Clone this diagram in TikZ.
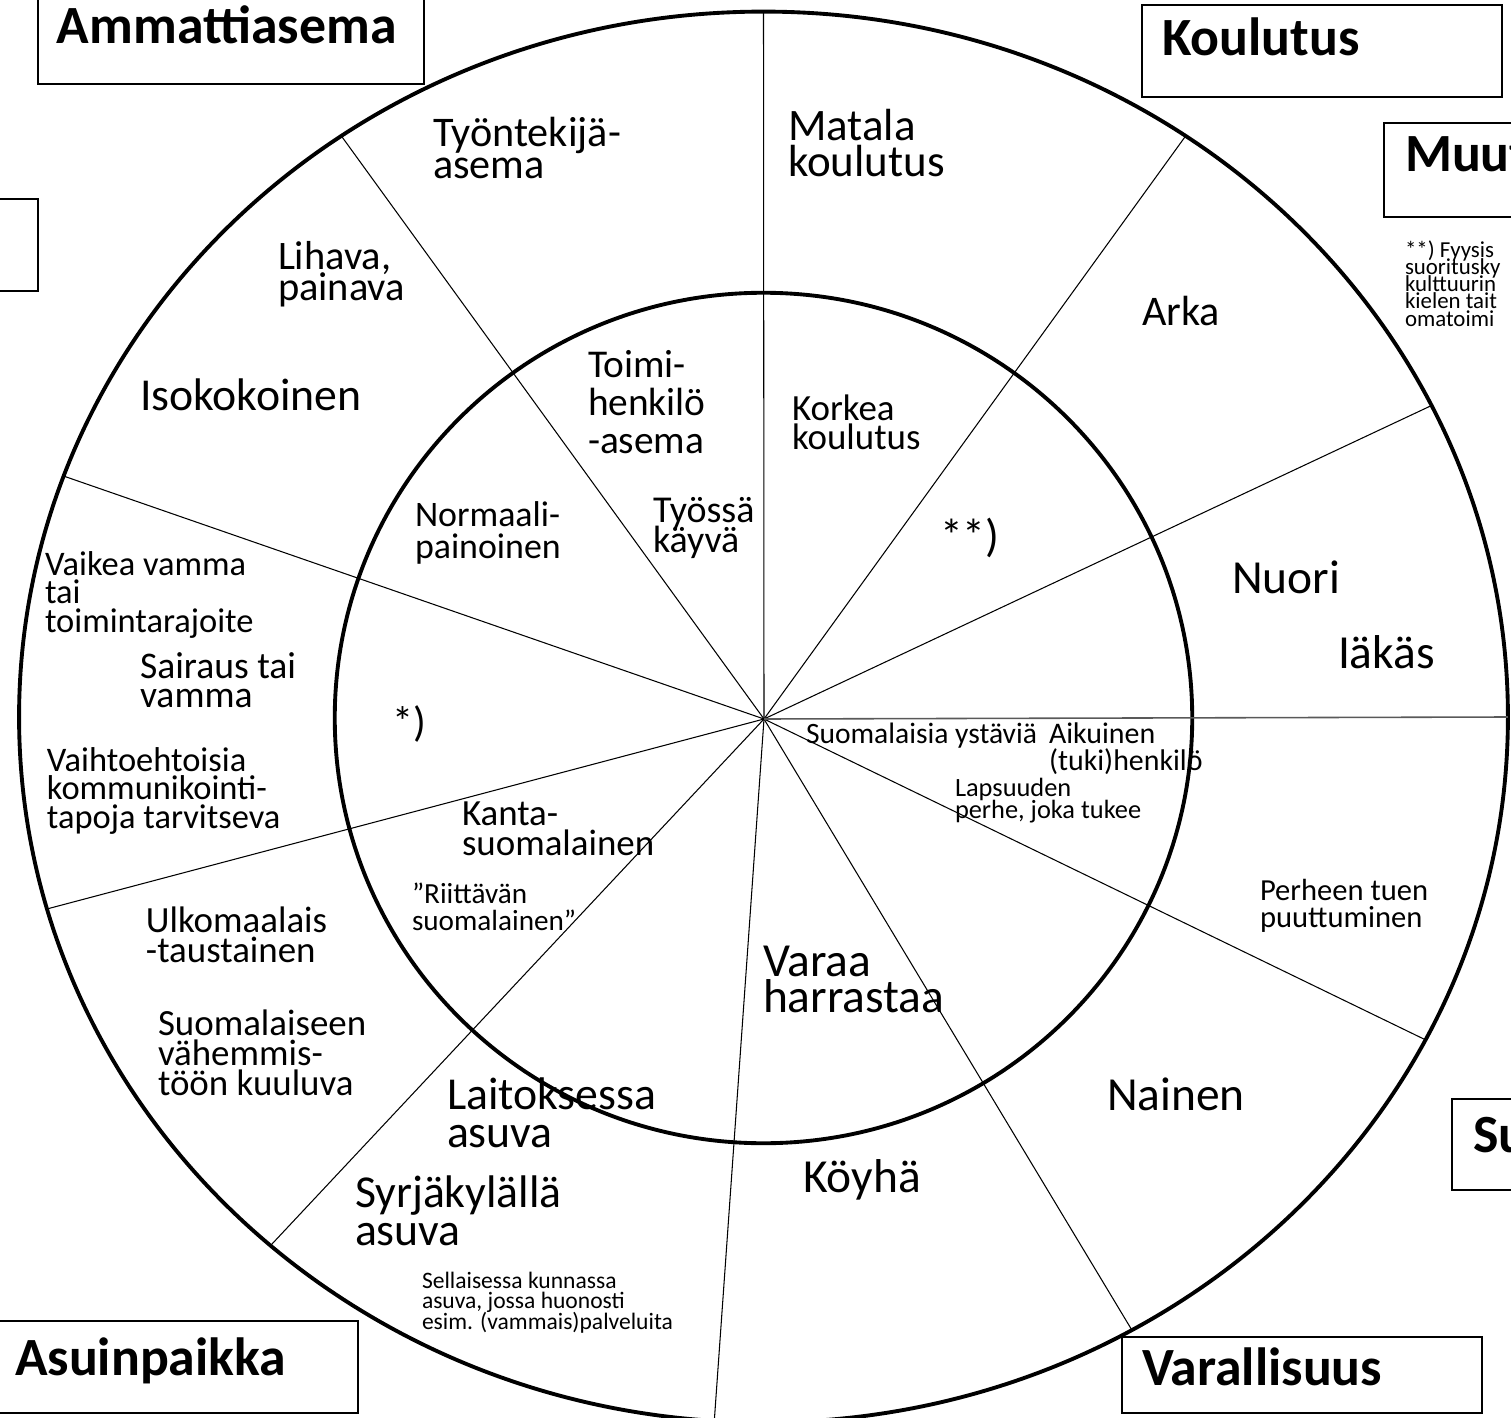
\documentclass[tikz,border=0pt]{standalone}
\usepackage{fontspec}
\setmainfont{Carlito}
\usetikzlibrary{shapes.geometric}

\begin{document}
\begin{tikzpicture}[x=0.01cm, y=-0.01cm,
    every node/.style={inner sep=0pt, outer sep=0pt, anchor=base west, align=left},
    ring/.style={draw, ellipse, line width=1.1pt, anchor=center},
    spoke/.style={line width=0.3pt},
    catbox/.style={line width=0.7pt},
    cattext/.style={font=\fontsize{15.3}{18}\selectfont\bfseries},
    sz/.style 2 args={font={\fontsize{#1}{#2}\selectfont\lineskiplimit=-50pt\relax}}]
    \useasboundingbox (0,0) rectangle (1511,1418);
    \clip (0,0) rectangle (1511,1418);

    \coordinate (hub) at (764,719);
    \node[ring, minimum width=14.88cm, minimum height=14.1cm] (outer) at (763.5,717) {};
    \node[ring, minimum width=8.57cm, minimum height=8.5cm] (inner) at (763.5,718) {};

    % spokes of the wheel
    \foreach \a in {90,54.4,25.5,-26.8,-59.4,-94.7,-133.1,-165.6,161.3,126.8}
        \draw[spoke] (hub) -- (outer.\a);
    \draw[spoke, black!65, line width=0.45pt] (hub) -- (outer.0);

    % category boxes
    \draw[catbox] (38,-10) rectangle (424,84);
    \node[cattext] (ammatti) at (57,44) {Ammattiasema};
    \draw[catbox] (1142,5) rectangle (1502,97);
    \node[cattext] (koulutus) at (1162,55) {Koulutus};
    \draw[catbox] (1384,123) rectangle (1530,217);
    \node[cattext] (muut) at (1405,172) {Muut};
    \draw[catbox] (-10,199) rectangle (38,291);
    \draw[catbox] (1452,1099) rectangle (1530,1190);
    \node[cattext] (su) at (1473,1152) {Su};
    \draw[catbox] (-10,1321) rectangle (358,1413);
    \node[cattext] (asuin) at (15,1375) {Asuinpaikka};
    \draw[catbox] (1122,1337) rectangle (1482,1413);
    \node[cattext] (varall) at (1142,1385) {Varallisuus};

    % outer ring (base = last line)
    \node[sz={12}{9.1}] (tyontekija) at (433,179) {Työntekijä-\\asema};
    \node[sz={12.8}{10.2}] (matala) at (788,176) {Matala\\koulutus};
    \node[sz={12}{11}] (arka) at (1142,325) {Arka};
    \node[sz={6.5}{4.9}] (fyysis) at (1405,326) {**) Fyysis\\suoritusky\\kulttuurin\\kielen tait\\omatoimi};
    \node[sz={13.5}{12}] (nuori) at (1232,593) {Nuori};
    \node[sz={13.5}{12}] (iakas) at (1338,668) {Iäkäs};
    \node[sz={8.7}{7.6}] (perhe) at (1260,927) {Perheen tuen\\puuttuminen};
    \node[sz={13.5}{12}] (nainen) at (1107,1110) {Nainen};
    \node[sz={13.5}{12}] (koyha) at (803,1192) {Köyhä};
    \node[sz={13}{10.8}] (laitos) at (447,1147) {Laitoksessa\\asuva};
    \node[sz={13}{10.8}] (syrja) at (355,1245) {Syrjäkylällä\\asuva};
    \node[sz={6.7}{5.7}] (kunta) at (422,1329) {Sellaisessa kunnassa\\asuva, jossa huonosti\\esim. (vammais)palveluita};
    \node[sz={10.5}{8.5}] (ulkomaa) at (146,962) {Ulkomaalais\\-taustainen};
    \node[sz={10.5}{8.4}] (vahemmisto) at (158,1095) {Suomalaiseen\\vähemmis-\\töön kuuluva};
    \node[sz={9.8}{8.1}] (vaikea) at (45,632) {Vaikea vamma\\tai\\toimintarajoite};
    \node[sz={10.7}{8.2}] (sairaus) at (140,707) {Sairaus tai\\vamma};
    \node[sz={9.8}{8.1}] (vaihto) at (47,828) {Vaihtoehtoisia\\kommunikointi-\\tapoja tarvitseva};
    \node[sz={13}{12}] (isokoko) at (140,410) {Isokokoinen};
    \node[sz={11.5}{8.8}] (lihava) at (278,300) {Lihava,\\painava};

    % inner ring
    \node[sz={11.2}{10.8}] (toimi) at (588,453) {Toimi-\\henkilö\\-asema};
    \node[sz={10.5}{8.2}] (korkea) at (792,449) {Korkea\\koulutus};
    \node[sz={10.8}{8.5}] (tyossa) at (653,552) {Työssä\\käyvä};
    \node[sz={10.2}{9}] (normaali) at (415,558) {Normaali-\\painoinen};
    \node[sz={13}{12}] (tahdet) at (940,551) {**)};
    \node[sz={12}{12}] (tahti) at (392,736) {*)};
    \node[sz={8.4}{7.6}] (ystavat) at (806,743) {Suomalaisia ystäviä};
    \node[sz={8.5}{7.6}] (aikuinen) at (1049,770) {Aikuinen\\(tuki)henkilö};
    \node[sz={7.5}{6}] (lapsuus) at (955,818) {Lapsuuden\\perhe, joka tukee};
    \node[sz={10.5}{8.5}] (kanta) at (462,855) {Kanta-\\suomalainen};
    \node[sz={8.3}{7.6}] (riittava) at (412,930) {”Riittävän\\suomalainen”};
    \node[sz={13.5}{10}] (varaa) at (763,1012) {Varaa\\harrastaa};

\end{tikzpicture}
\end{document}
